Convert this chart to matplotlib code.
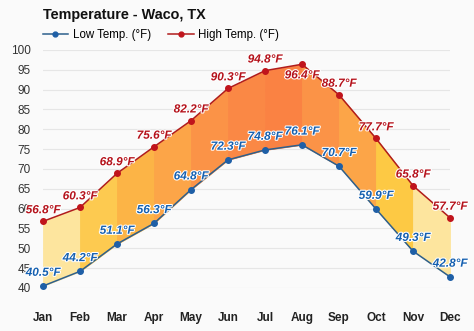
import matplotlib
matplotlib.use("Agg")
import matplotlib.pyplot as plt
import matplotlib.patheffects as pe
from matplotlib.lines import Line2D

months = ["Jan", "Feb", "Mar", "Apr", "May", "Jun", "Jul", "Aug", "Sep", "Oct", "Nov", "Dec"]
low_temps = [40.5, 44.2, 51.1, 56.3, 64.8, 72.3, 74.8, 76.1, 70.7, 59.9, 49.3, 42.8]
high_temps = [56.8, 60.3, 68.9, 75.6, 82.2, 90.3, 94.8, 96.4, 88.7, 77.7, 65.8, 57.7]
# fill colour of the band between month i and month i+1
band_colors = ["#fde59e", "#fdca50", "#fcb446", "#fca548", "#fb9347", "#fa8845",
               "#fa8243", "#fb9347", "#fca548", "#fdc944", "#fde59e"]

plt.rcParams['font.family'] = ['Liberation Sans', 'DejaVu Sans']

fig = plt.figure(figsize=(4.74, 3.31), dpi=100)
fig.patch.set_facecolor("#fafafa")
ax = fig.add_axes([43 / 474, 1 - 288 / 331, 407 / 474, 238 / 331])
ax.set_facecolor("#fafafa")

x = list(range(len(months)))

for i in range(len(months) - 1):
    ax.fill_between([x[i], x[i + 1]], [low_temps[i], low_temps[i + 1]],
                    [high_temps[i], high_temps[i + 1]],
                    facecolor=band_colors[i], edgecolor=band_colors[i],
                    linewidth=0.6, zorder=2)

ax.plot(x, low_temps, color="#2d5f8c", lw=1.1, marker="o", ms=4,
        mfc="#1f5fa6", mec="#1f5fa6", zorder=4, clip_on=False)
ax.plot(x, high_temps, color="#b01c1c", lw=1.1, marker="o", ms=4,
        mfc="#c0141c", mec="#c0141c", zorder=4, clip_on=False)

halo = [pe.withStroke(linewidth=1.5, foreground="white")]
for i in range(len(months)):
    # the hottest month's label sits under its point, as in the original
    dy = -8 if high_temps[i] == max(high_temps) else 8
    ax.annotate(f"{high_temps[i]}°F", (x[i], high_temps[i]), xytext=(0, dy),
                textcoords="offset points", ha="center", va="center",
                fontsize=8.5, fontweight="bold", fontstyle="italic",
                color="#b5121b", path_effects=halo, zorder=6)
    ax.annotate(f"{low_temps[i]}°F", (x[i], low_temps[i]), xytext=(0, 9.5),
                textcoords="offset points", ha="center", va="center",
                fontsize=8.5, fontweight="bold", fontstyle="italic",
                color="#1560b0", path_effects=halo, zorder=6)

ax.set_xlim(0, 11)
ax.set_ylim(40, 100)
ax.set_yticks(range(40, 101, 5))
ax.set_xticks(x)
ax.set_xticklabels(months, fontweight="bold", fontsize=8.5, color="#222222")
ax.tick_params(axis="x", length=0, pad=17)
ax.tick_params(axis="y", length=0, pad=9, labelsize=8.5, labelcolor="#333333")
ax.grid(axis="y", color="#e6e6e6", lw=0.8, zorder=0)
for s in ax.spines.values():
    s.set_visible(False)

fig.text(43 / 474, 1 - 15 / 331, "Temperature - Waco, TX", fontsize=10.4,
         fontweight="bold", va="center", ha="left", color="#111111")

handles = [Line2D([0], [0], color="#2d5f8c", marker="o", ms=3.5, mfc="#1f5fa6", mec="#1f5fa6", lw=1.1),
           Line2D([0], [0], color="#b01c1c", marker="o", ms=3.5, mfc="#c0141c", mec="#c0141c", lw=1.1)]
fig.legend(handles, ["Low Temp. (°F)", "High Temp. (°F)"], loc="center left",
           bbox_to_anchor=(37 / 474, 1 - 35 / 331), ncol=2, frameon=False,
           fontsize=8.3, handlelength=2.2, handletextpad=0.4, columnspacing=1.5,
           borderpad=0)

fig.savefig("out.png", dpi=100, facecolor=fig.get_facecolor())
